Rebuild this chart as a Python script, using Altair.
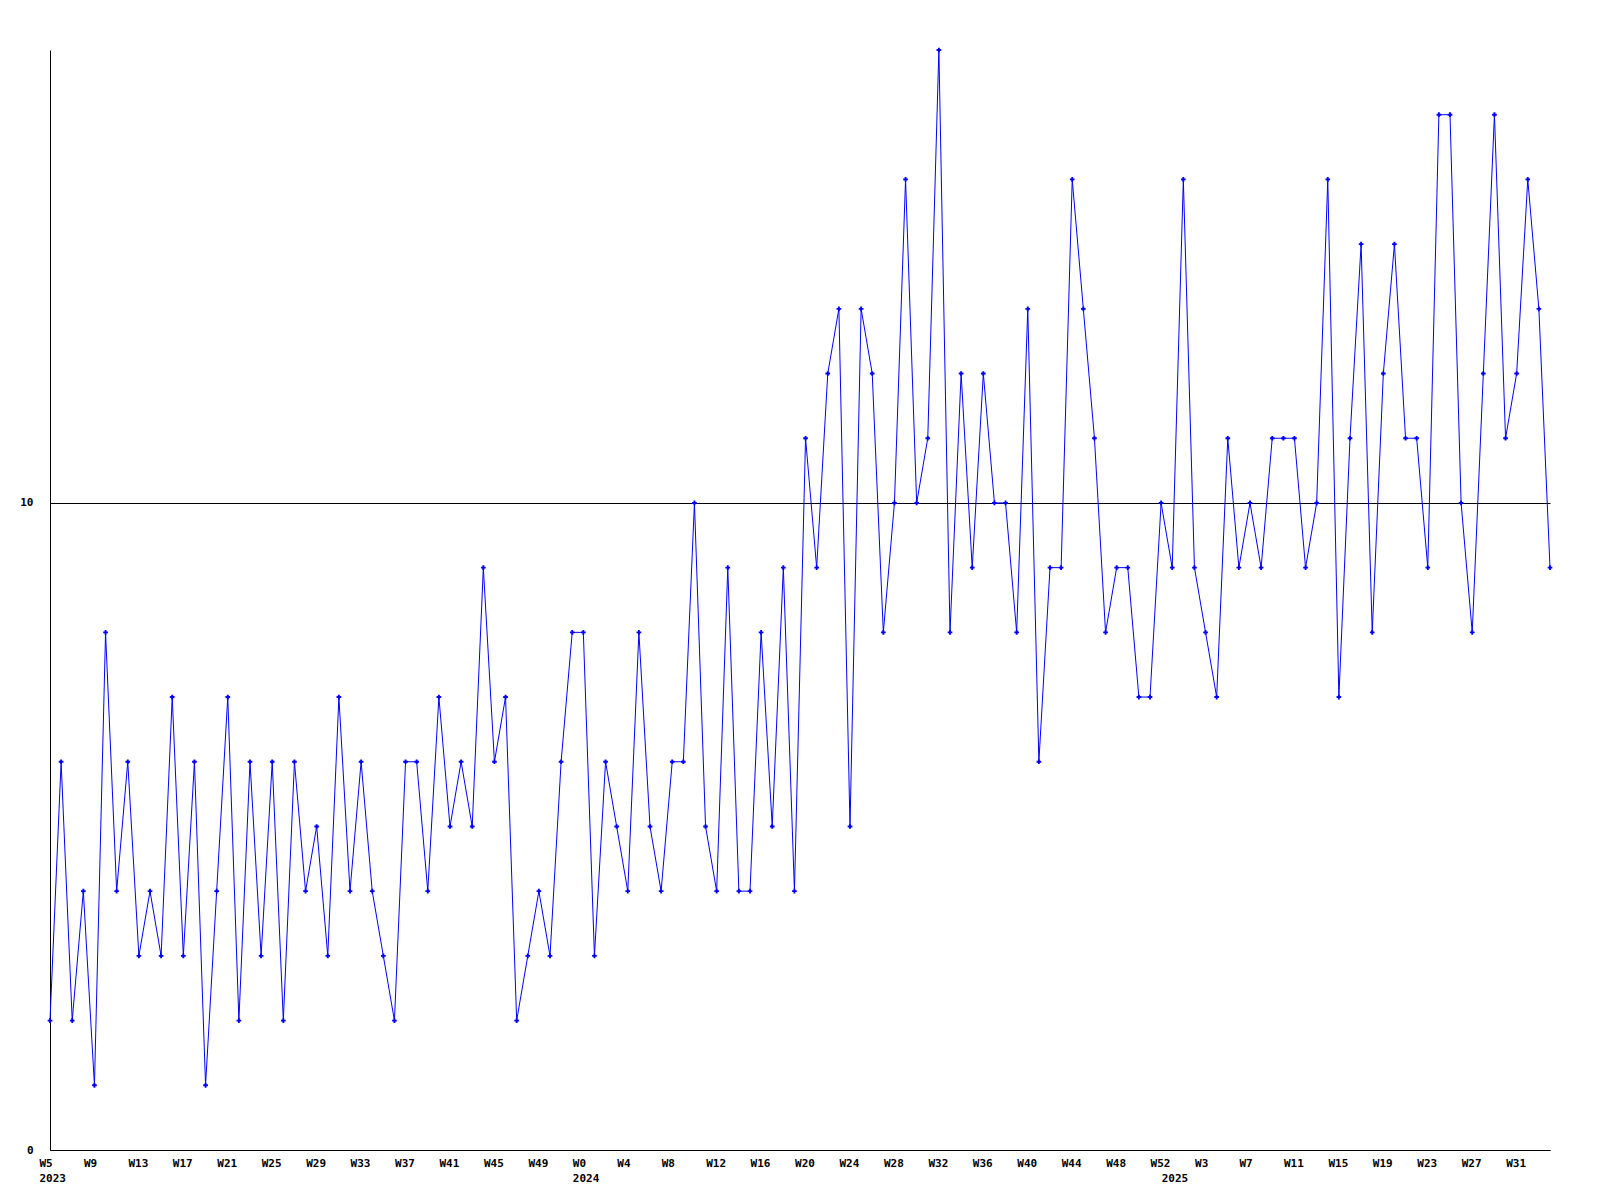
import json
import altair as alt
import pandas as pd

# weekly counts, W5 2023 .. W34 2025 (one value per week)
values = [2, 6, 2, 4, 1, 8, 4, 6, 3, 4,
          3, 7, 3, 6, 1, 4, 7, 2, 6, 3,
          6, 2, 6, 4, 5, 3, 7, 4, 6, 4,
          3, 2, 6, 6, 4, 7, 5, 6, 5, 9,
          6, 7, 2, 3, 4, 3, 6, 8, 8, 3,
          6, 5, 4, 8, 5, 4, 6, 6, 10, 5,
          4, 9, 4, 4, 8, 5, 9, 4, 11, 9,
          12, 13, 5, 13, 12, 8, 10, 15, 10, 11,
          17, 8, 12, 9, 12, 10, 10, 8, 13, 6,
          9, 9, 15, 13, 11, 8, 9, 9, 7, 7,
          10, 9, 15, 9, 8, 7, 11, 9, 10, 9,
          11, 11, 11, 9, 10, 15, 7, 11, 14, 8,
          12, 14, 11, 11, 9, 16, 16, 10, 8, 12,
          16, 11, 12, 15, 13, 9]

week_index = list(range(len(values)))

# x tick labels (every 4th week)
tick_positions = list(range(0, 133, 4))
tick_labels = ["W5", "W9", "W13", "W17", "W21", "W25", "W29", "W33", "W37",
               "W41", "W45", "W49", "W0", "W4", "W8", "W12", "W16", "W20",
               "W24", "W28", "W32", "W36", "W40", "W44", "W48", "W52", "W3",
               "W7", "W11", "W15", "W19", "W23", "W27", "W31"]

# year labels at first week of each year
years = ["2023", "2024", "2025"]
year_positions = [0, 48, 101]

y_ticks = [0, 10]

df = pd.DataFrame({"i": week_index, "v": values})

# build label lookup array for labelExpr
lab = [""] * len(values)
for p, t in zip(tick_positions, tick_labels):
    lab[p] = t
for p, yv in zip(year_positions, years):
    lab[p] = [lab[p], yv]
axis_values = sorted(set(tick_positions + year_positions))
label_expr = json.dumps(lab) + "[datum.value]"

FONT = "DejaVu Sans Mono"

x = alt.X(
    "i:Q",
    scale=alt.Scale(domain=[0, len(values) - 1], nice=False, zero=False),
    axis=alt.Axis(
        title=None,
        values=axis_values,
        labelExpr=label_expr,
        ticks=False,
        grid=False,
        domainColor="black",
        domainWidth=1,
        labelAlign="left",
        labelBaseline="top",
        labelOffset=-11,
        labelPadding=7,
        labelLineHeight=15,
        labelFlush=False,
        labelOverlap=False,
        labelBound=False,
        labelFont=FONT,
        labelFontSize=11,
        labelFontWeight="bold",
        labelColor="black",
    ),
)

y = alt.Y(
    "v:Q",
    scale=alt.Scale(domain=[0, 17], nice=False, zero=True),
    axis=alt.Axis(
        title=None,
        values=y_ticks,
        ticks=False,
        grid=True,
        gridColor="black",
        gridOpacity=1,
        gridWidth=1,
        domainColor="black",
        domainWidth=1,
        labelPadding=17,
        labelFont=FONT,
        labelFontSize=11,
        labelFontWeight="bold",
        labelColor="black",
    ),
)

base = alt.Chart(df)
line = base.mark_line(color="#0000ff", strokeWidth=1).encode(x=x, y=y)
pts = base.mark_point(shape="cross", filled=True, size=22, color="#0000ff", opacity=1).encode(x=x, y=y)

chart = (
    alt.layer(line, pts)
    .properties(
        width=1500,
        height=1100,
        padding={"left": 11, "top": 39, "right": 10, "bottom": 10},
        background="white",
    )
    .configure_view(stroke=None)
)

chart.save("out.html", embed_options={"renderer": "svg", "actions": False})
